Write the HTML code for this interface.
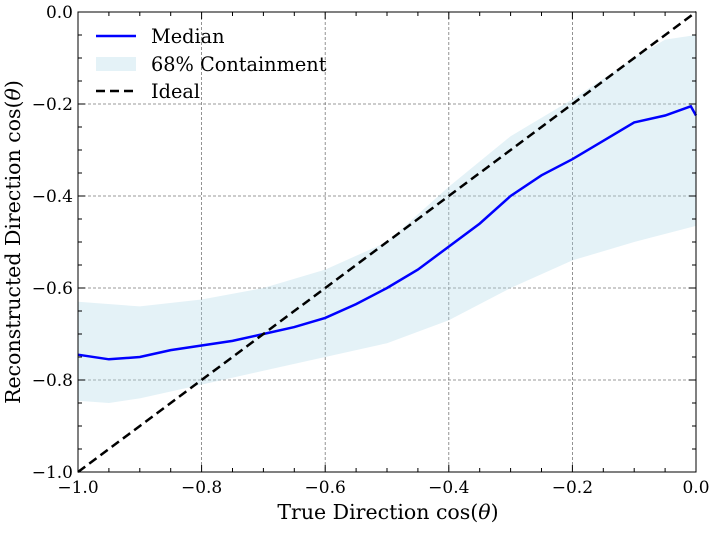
<!DOCTYPE html>
<html><head><meta charset="utf-8"><style>body{margin:0;background:#fff}</style></head><body>
<svg width="716" height="528" xmlns="http://www.w3.org/2000/svg" font-family="'DejaVu Serif','Liberation Serif',serif">
<rect width="716" height="528" fill="#fff"/>
<g stroke="#777" stroke-width="0.8" stroke-dasharray="3,2">
<line x1="201.6" y1="12" x2="201.6" y2="472"/><line x1="325.2" y1="12" x2="325.2" y2="472"/>
<line x1="448.8" y1="12" x2="448.8" y2="472"/><line x1="572.4" y1="12" x2="572.4" y2="472"/>
<line x1="78" y1="104" x2="696" y2="104"/><line x1="78" y1="196" x2="696" y2="196"/>
<line x1="78" y1="288" x2="696" y2="288"/><line x1="78" y1="380" x2="696" y2="380"/>
</g>
<polygon fill="#add8e6" fill-opacity="0.33" points="78,301.8 139.8,306.4 201.6,299.5 263.4,288 325.2,269.6 387,242 417.9,214.4 448.8,186.8 510.6,136.2 572.4,99.4 634.2,58 665.1,39.6 696,35 696,225.9 634.2,242 572.4,260.4 510.6,288 448.8,320.2 387,343.2 325.2,357 263.4,370.8 201.6,384.6 139.8,398.4 108.9,403 78,400.7"/>
<polyline fill="none" stroke="#0000ff" stroke-width="2.5" points="78,354.7 108.9,359.3 139.8,357 170.7,350.1 201.6,345.5 232.5,340.9 263.4,334 294.3,327.1 325.2,317.9 356.1,304.1 387,288 417.9,269.6 448.8,246.6 479.7,223.6 510.6,196 541.5,175.3 572.4,159.2 603.3,140.8 634.2,122.4 665.1,115.5 690.8,106.3 696,115.5"/>
<line x1="78" y1="472" x2="696" y2="12" stroke="#000" stroke-width="2.5" stroke-dasharray="9,5"/>
<rect x="78" y="12" width="618" height="460" fill="none" stroke="#000" stroke-width="1"/>
<g stroke="#000" stroke-width="1">
<path d="M78,472v-7M201.6,472v-7M325.2,472v-7M448.8,472v-7M572.4,472v-7M201.6,12v7M325.2,12v7M448.8,12v7M572.4,12v7M78,104h7M78,196h7M78,288h7M78,380h7M696,104h-7M696,196h-7M696,288h-7M696,380h-7"/>
<path d="M108.9,472v-4M139.8,472v-4M170.7,472v-4M232.5,472v-4M263.4,472v-4M294.3,472v-4M356.1,472v-4M387,472v-4M417.9,472v-4M479.7,472v-4M510.6,472v-4M541.5,472v-4M603.3,472v-4M634.2,472v-4M665.1,472v-4M108.9,12v4M139.8,12v4M170.7,12v4M232.5,12v4M263.4,12v4M294.3,12v4M356.1,12v4M387,12v4M417.9,12v4M479.7,12v4M510.6,12v4M541.5,12v4M603.3,12v4M634.2,12v4M665.1,12v4"/>
<path d="M78,35h4M78,58h4M78,81h4M78,127h4M78,150h4M78,173h4M78,219h4M78,242h4M78,265h4M78,311h4M78,334h4M78,357h4M78,403h4M78,426h4M78,449h4M696,35h-4M696,58h-4M696,81h-4M696,127h-4M696,150h-4M696,173h-4M696,219h-4M696,242h-4M696,265h-4M696,311h-4M696,334h-4M696,357h-4M696,403h-4M696,426h-4M696,449h-4"/>
</g>
<g font-size="17" fill="#000" text-anchor="middle">
<text x="78" y="493">−1.0</text><text x="201.6" y="493">−0.8</text><text x="325.2" y="493">−0.6</text><text x="448.8" y="493">−0.4</text><text x="572.4" y="493">−0.2</text><text x="696" y="493">0.0</text>
</g>
<g font-size="17" fill="#000" text-anchor="end">
<text x="73" y="18">0.0</text><text x="73" y="110">−0.2</text><text x="73" y="202">−0.4</text><text x="73" y="294">−0.6</text><text x="73" y="386">−0.8</text><text x="73" y="478">−1.0</text>
</g>
<text x="388" y="519" font-size="20.5" text-anchor="middle">True Direction cos(<tspan font-style="italic">θ</tspan>)</text>
<text transform="translate(20,242) rotate(-90)" font-size="20.5" text-anchor="middle">Reconstructed Direction cos(<tspan font-style="italic">θ</tspan>)</text>
<line x1="96" y1="36" x2="136" y2="36" stroke="#0000ff" stroke-width="2.5"/>
<rect x="96" y="57" width="40" height="14" fill="#add8e6" fill-opacity="0.33"/>
<line x1="96" y1="91" x2="136" y2="91" stroke="#000" stroke-width="2.5" stroke-dasharray="9,5"/>
<g font-size="19.3" fill="#000">
<text x="151" y="43">Median</text><text x="151" y="71">68% Containment</text><text x="151" y="98">Ideal</text>
</g>
</svg>
</body></html>
